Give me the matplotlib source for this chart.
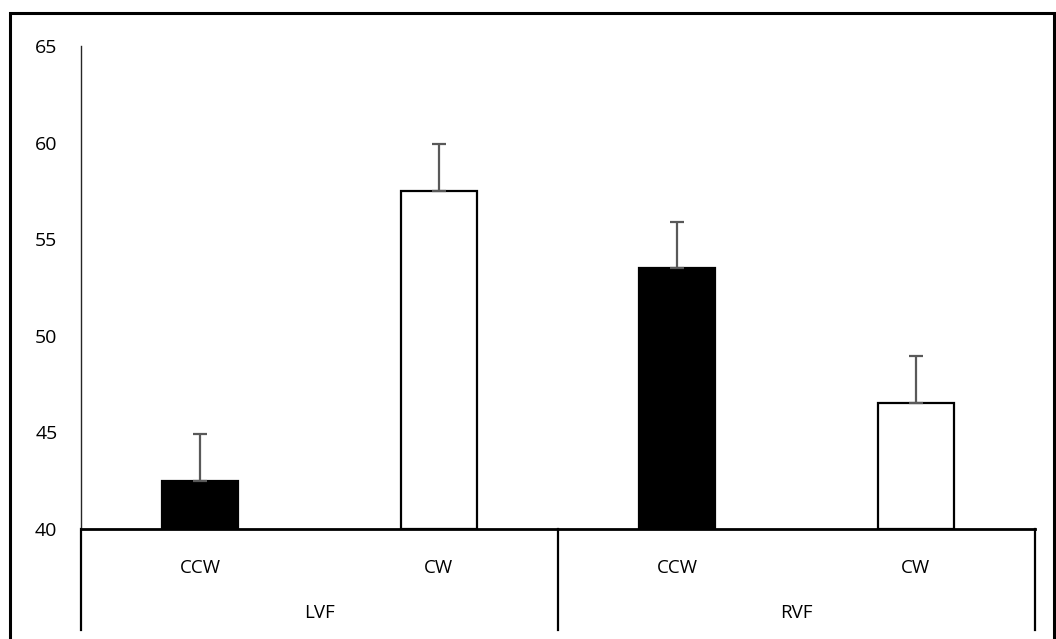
import matplotlib
matplotlib.use("Agg")
import matplotlib.pyplot as plt
from matplotlib.patches import Rectangle
import matplotlib.transforms as mtransforms

plt.rcParams['font.family'] = ['Open Sans', 'DejaVu Sans']

groups = ["LVF", "RVF"]
conditions = ["CCW", "CW", "CCW", "CW"]
values = [42.5, 57.5, 53.5, 46.5]
errors = [2.4, 2.45, 2.4, 2.45]
colors = ["black", "white", "black", "white"]
yticks = [40, 45, 50, 55, 60, 65]

fig = plt.figure(figsize=(10.56, 6.39), dpi=100)
ax = fig.add_axes([81/1056, 1 - 529/639, (1035-81)/1056, (529-46)/639])

x = list(range(len(values)))
ax.bar(x, [v - 40 for v in values], bottom=40, width=0.32, color=colors,
       edgecolor="black", linewidth=1.6, zorder=2)
ax.errorbar(x, values, yerr=[[0]*len(errors), errors], fmt="none",
            ecolor="#595959", elinewidth=1.6, capsize=5, capthick=1.6, zorder=3)

ax.set_xlim(-0.5, 3.5)
ax.set_ylim(40, 65)
ax.set_yticks(yticks)
ax.set_yticklabels([str(t) for t in yticks], fontsize=14)
ax.tick_params(axis='y', length=0, pad=17)
ax.set_xticks(x)
ax.set_xticklabels(conditions, fontsize=13.5)
ax.tick_params(axis='x', length=0, pad=21.5)

for s in ["top", "right"]:
    ax.spines[s].set_visible(False)
ax.spines["left"].set_color("#262626")
ax.spines["left"].set_linewidth(1.0)
ax.spines["bottom"].set_color("black")
ax.spines["bottom"].set_linewidth(2.0)

trans = mtransforms.blended_transform_factory(ax.transData, ax.transAxes)
sep_bottom = -(630 - 529) / (529 - 46)
for xs in [-0.5, 1.5, 3.5]:
    ax.plot([xs, xs], [0, sep_bottom], transform=trans, color="black",
            linewidth=1.6, clip_on=False)
label_y = -(613 - 529) / (529 - 46)
for i, g in enumerate(groups):
    ax.text(2 * i + 0.5, label_y, g, transform=trans, ha="center", va="center",
            fontsize=13.5)

fig.patches.append(Rectangle((10/1056, -0.05), (1054-10)/1056, 1 - 13/639 + 0.05,
                             transform=fig.transFigure, fill=False,
                             edgecolor="black", linewidth=2.2))

fig.savefig("out.png", dpi=100)
